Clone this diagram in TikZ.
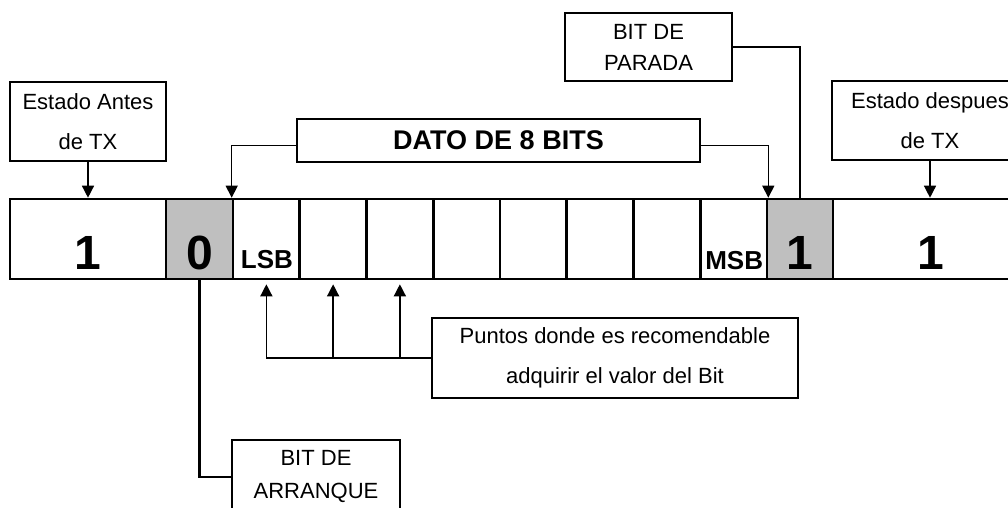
\documentclass[tikz,border=0pt]{standalone}
\usepackage{fontspec}
\setmainfont{Liberation Sans}
\usetikzlibrary{arrows.meta}

\begin{document}
\begin{tikzpicture}[
    x=1pt, y=-1pt,
    cell/.style={rectangle, draw, line width=2.6pt, minimum height=80pt, inner sep=0pt},
    tag/.style={rectangle, draw, line width=2.8pt, fill=white, align=center, inner sep=0pt, font=\fontsize{22}{40}\selectfont},
    digit/.style={inner sep=0pt, font=\fontsize{48}{48}\selectfont\bfseries},
    ends/.style={inner sep=0pt, font=\fontsize{26}{26}\selectfont\bfseries},
    arr/.style={-{Triangle[width=12pt,length=12pt]}, line width=1.4pt}
]
    \useasboundingbox (0,0) rectangle (1008,508);
    \clip (0,0) rectangle (1008,508);

    % line state before the frame, start bit
    \node[cell, minimum width=156pt] (c0) at (88,239) {};
    \node[cell, minimum width=67pt, fill=black!25] (s) at (199.5,239) {};
    % 8 data bits
    \foreach \i in {0,...,7} {
        \node[cell, minimum width=66.75pt] (d\i) at ({266.375+\i*66.75},239) {};
    }
    % stop bit, line state after the frame
    \node[cell, minimum width=66pt, fill=black!25] (p) at (800,239) {};
    \node[cell, minimum width=195pt] (c9) at (930.5,239) {};

    \node[digit, anchor=base] (v0) at ([yshift=11pt]c0.south) {1};
    \node[digit, anchor=base] (vs) at ([yshift=11pt]s.south) {0};
    \node[digit, anchor=base] (vp) at ([yshift=11pt]p.south) {1};
    \node[digit, anchor=base] (v9) at ([yshift=11pt]c9.south) {1};
    \node[ends, anchor=base west] (lsb) at ([xshift=9pt,yshift=12pt]d0.south west) {LSB};
    \node[ends, anchor=base east] (msb) at ([xshift=-5pt,yshift=11pt]d7.south east) {MSB};

    % Labels
    \node[tag, minimum width=156pt, minimum height=79pt] (antes) at (88,121.5) {Estado Antes\\de TX};
    \node[tag, minimum width=196pt, minimum height=79pt] (despues) at (930,120.5) {Estado despues\\de TX};
    \node[tag, minimum width=167pt, minimum height=68pt, font=\fontsize{22}{31}\selectfont] (parada) at (648.5,47) {BIT DE\\PARADA};
    \node[tag, minimum width=403pt, minimum height=43pt, font=\fontsize{27}{27}\selectfont\bfseries] (dato) at (498.5,140.5) {DATO DE 8 BITS};
    \node[tag, minimum width=366pt, minimum height=80pt] (puntos) at (615,358) {Puntos donde es recomendable\\adquirir el valor del Bit};
    \node[tag, minimum width=168pt, minimum height=74pt, font=\fontsize{22}{33}\selectfont] (arranque) at (316,477) {BIT DE\\ARRANQUE};

    % Connectors
    \draw[arr] (antes) -- (antes |- c0.north);
    \draw[arr] (despues) -- (despues |- c9.north);
    \draw[arr] ([yshift=-5pt]dato.west) -| (d0.north west);
    \draw[arr] ([yshift=-5pt]dato.east) -| (d7.north east);
    \draw[line width=2.4pt] (parada.east) -| (p.north);
    \draw[line width=2.6pt] (s.south) |- (arranque.west);
    % sampling points
    \draw[line width=2.2pt] (puntos.west) -- (puntos.west -| d0.south);
    \foreach \i in {0,1,2}
        \draw[arr] (puntos.west -| d\i.south) -- ([yshift=-4pt]d\i.south);
\end{tikzpicture}
\end{document}
